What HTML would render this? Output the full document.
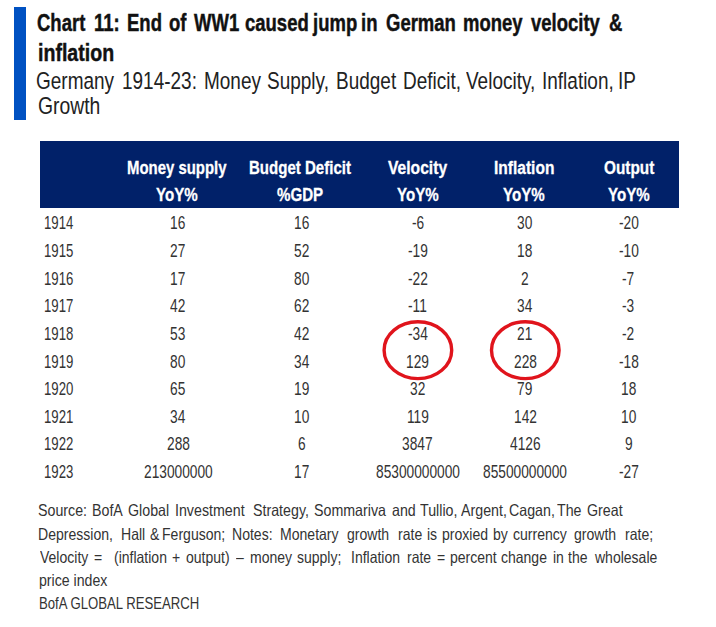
<!DOCTYPE html>
<html><head><meta charset="utf-8">
<style>
html,body{margin:0;padding:0;background:#fff;width:716px;height:627px;overflow:hidden;position:relative}
.t{position:absolute;white-space:pre;font-family:"Liberation Sans",sans-serif;line-height:normal;transform-origin:0 0}
.bar{position:absolute;left:14px;top:7px;width:12px;height:113px;background:#0051c2}
.hdr{position:absolute;left:40px;top:141px;width:639px;height:67px;background:#012169}
svg{position:absolute;left:0;top:0}
</style></head><body>
<div class="bar"></div>
<div class="hdr"></div>
<div class="t" style="left:36.89px;top:10.36px;font-size:23.69px;font-weight:bold;color:#111;-webkit-text-stroke:0.45px #111;transform:scaleX(0.7807)">Chart</div>
<div class="t" style="left:93.91px;top:10.36px;font-size:23.69px;font-weight:bold;color:#111;-webkit-text-stroke:0.45px #111;transform:scaleX(0.7807)">11:</div>
<div class="t" style="left:127.40px;top:10.36px;font-size:23.69px;font-weight:bold;color:#111;-webkit-text-stroke:0.45px #111;transform:scaleX(0.7807)">End</div>
<div class="t" style="left:168.57px;top:10.36px;font-size:23.69px;font-weight:bold;color:#111;-webkit-text-stroke:0.45px #111;transform:scaleX(0.7807)">of</div>
<div class="t" style="left:194.05px;top:10.36px;font-size:23.69px;font-weight:bold;color:#111;-webkit-text-stroke:0.45px #111;transform:scaleX(0.7807)">WW1</div>
<div class="t" style="left:245.45px;top:10.36px;font-size:23.69px;font-weight:bold;color:#111;-webkit-text-stroke:0.45px #111;transform:scaleX(0.7807)">caused</div>
<div class="t" style="left:312.96px;top:10.36px;font-size:23.69px;font-weight:bold;color:#111;-webkit-text-stroke:0.45px #111;transform:scaleX(0.7807)">jump</div>
<div class="t" style="left:361.26px;top:10.36px;font-size:23.69px;font-weight:bold;color:#111;-webkit-text-stroke:0.45px #111;transform:scaleX(0.7807)">in</div>
<div class="t" style="left:385.81px;top:10.36px;font-size:23.69px;font-weight:bold;color:#111;-webkit-text-stroke:0.45px #111;transform:scaleX(0.7807)">German</div>
<div class="t" style="left:463.18px;top:10.36px;font-size:23.69px;font-weight:bold;color:#111;-webkit-text-stroke:0.45px #111;transform:scaleX(0.7807)">money</div>
<div class="t" style="left:531.22px;top:10.36px;font-size:23.69px;font-weight:bold;color:#111;-webkit-text-stroke:0.45px #111;transform:scaleX(0.7807)">velocity</div>
<div class="t" style="left:608.67px;top:10.36px;font-size:23.69px;font-weight:bold;color:#111;-webkit-text-stroke:0.45px #111;transform:scaleX(0.7807)">&amp;</div>
<div class="t" style="left:37.70px;top:40.36px;font-size:23.69px;font-weight:bold;color:#111;-webkit-text-stroke:0.45px #111;transform:scaleX(0.8263)">inflation</div>
<div class="t" style="left:36.28px;top:67.75px;font-size:23.26px;color:#222;transform:scaleX(0.8164)">Germany</div>
<div class="t" style="left:122.38px;top:67.75px;font-size:23.26px;color:#222;transform:scaleX(0.8164)">1914-23:</div>
<div class="t" style="left:204.02px;top:67.75px;font-size:23.26px;color:#222;transform:scaleX(0.8164)">Money</div>
<div class="t" style="left:267.26px;top:67.75px;font-size:23.26px;color:#222;transform:scaleX(0.8164)">Supply,</div>
<div class="t" style="left:335.71px;top:67.75px;font-size:23.26px;color:#222;transform:scaleX(0.8164)">Budget</div>
<div class="t" style="left:402.68px;top:67.75px;font-size:23.26px;color:#222;transform:scaleX(0.8164)">Deficit,</div>
<div class="t" style="left:465.79px;top:67.75px;font-size:23.26px;color:#222;transform:scaleX(0.8164)">Velocity,</div>
<div class="t" style="left:541.62px;top:67.75px;font-size:23.26px;color:#222;transform:scaleX(0.8164)">Inflation,</div>
<div class="t" style="left:617.82px;top:67.75px;font-size:23.26px;color:#222;transform:scaleX(0.8164)">IP</div>
<div class="t" style="left:37.60px;top:93.35px;font-size:23.26px;color:#222;transform:scaleX(0.8320)">Growth</div>
<div class="t" style="left:127.40px;top:157.40px;font-size:18.90px;font-weight:bold;color:#fff;-webkit-text-stroke:0.3px #fff;transform:scaleX(0.7905)">Money supply</div>
<div class="t" style="left:249.00px;top:157.40px;font-size:18.90px;font-weight:bold;color:#fff;-webkit-text-stroke:0.3px #fff;transform:scaleX(0.7963)">Budget Deficit</div>
<div class="t" style="left:387.90px;top:157.40px;font-size:18.90px;font-weight:bold;color:#fff;-webkit-text-stroke:0.3px #fff;transform:scaleX(0.8277)">Velocity</div>
<div class="t" style="left:493.60px;top:157.40px;font-size:18.90px;font-weight:bold;color:#fff;-webkit-text-stroke:0.3px #fff;transform:scaleX(0.8218)">Inflation</div>
<div class="t" style="left:603.70px;top:157.40px;font-size:18.90px;font-weight:bold;color:#fff;-webkit-text-stroke:0.3px #fff;transform:scaleX(0.8126)">Output</div>
<div class="t" style="left:156.16px;top:183.70px;font-size:18.90px;font-weight:bold;color:#fff;-webkit-text-stroke:0.3px #fff;transform:scaleX(0.8000)">YoY%</div>
<div class="t" style="left:277.42px;top:183.70px;font-size:18.90px;font-weight:bold;color:#fff;-webkit-text-stroke:0.3px #fff;transform:scaleX(0.8000)">%GDP</div>
<div class="t" style="left:396.66px;top:183.70px;font-size:18.90px;font-weight:bold;color:#fff;-webkit-text-stroke:0.3px #fff;transform:scaleX(0.8000)">YoY%</div>
<div class="t" style="left:503.16px;top:183.70px;font-size:18.90px;font-weight:bold;color:#fff;-webkit-text-stroke:0.3px #fff;transform:scaleX(0.8000)">YoY%</div>
<div class="t" style="left:608.16px;top:183.70px;font-size:18.90px;font-weight:bold;color:#fff;-webkit-text-stroke:0.3px #fff;transform:scaleX(0.8000)">YoY%</div>
<div class="t" style="left:43.90px;top:212.33px;font-size:18.31px;color:#333;transform:scaleX(0.7200)">1914</div>
<div class="t" style="left:170.35px;top:212.33px;font-size:18.31px;color:#333;transform:scaleX(0.7500)">16</div>
<div class="t" style="left:294.35px;top:212.33px;font-size:18.31px;color:#333;transform:scaleX(0.7500)">16</div>
<div class="t" style="left:411.59px;top:212.33px;font-size:18.31px;color:#333;transform:scaleX(0.7500)">-6</div>
<div class="t" style="left:517.35px;top:212.33px;font-size:18.31px;color:#333;transform:scaleX(0.7500)">30</div>
<div class="t" style="left:618.56px;top:212.33px;font-size:18.31px;color:#333;transform:scaleX(0.7500)">-20</div>
<div class="t" style="left:43.90px;top:239.97px;font-size:18.31px;color:#333;transform:scaleX(0.7200)">1915</div>
<div class="t" style="left:170.35px;top:239.97px;font-size:18.31px;color:#333;transform:scaleX(0.7500)">27</div>
<div class="t" style="left:294.35px;top:239.97px;font-size:18.31px;color:#333;transform:scaleX(0.7500)">52</div>
<div class="t" style="left:407.76px;top:239.97px;font-size:18.31px;color:#333;transform:scaleX(0.7500)">-19</div>
<div class="t" style="left:517.35px;top:239.97px;font-size:18.31px;color:#333;transform:scaleX(0.7500)">18</div>
<div class="t" style="left:618.56px;top:239.97px;font-size:18.31px;color:#333;transform:scaleX(0.7500)">-10</div>
<div class="t" style="left:43.90px;top:267.61px;font-size:18.31px;color:#333;transform:scaleX(0.7200)">1916</div>
<div class="t" style="left:170.35px;top:267.61px;font-size:18.31px;color:#333;transform:scaleX(0.7500)">17</div>
<div class="t" style="left:294.35px;top:267.61px;font-size:18.31px;color:#333;transform:scaleX(0.7500)">80</div>
<div class="t" style="left:407.76px;top:267.61px;font-size:18.31px;color:#333;transform:scaleX(0.7500)">-22</div>
<div class="t" style="left:521.17px;top:267.61px;font-size:18.31px;color:#333;transform:scaleX(0.7500)">2</div>
<div class="t" style="left:622.39px;top:267.61px;font-size:18.31px;color:#333;transform:scaleX(0.7500)">-7</div>
<div class="t" style="left:43.90px;top:295.25px;font-size:18.31px;color:#333;transform:scaleX(0.7200)">1917</div>
<div class="t" style="left:170.35px;top:295.25px;font-size:18.31px;color:#333;transform:scaleX(0.7500)">42</div>
<div class="t" style="left:294.35px;top:295.25px;font-size:18.31px;color:#333;transform:scaleX(0.7500)">62</div>
<div class="t" style="left:408.29px;top:295.25px;font-size:18.31px;color:#333;transform:scaleX(0.7500)">-11</div>
<div class="t" style="left:517.35px;top:295.25px;font-size:18.31px;color:#333;transform:scaleX(0.7500)">34</div>
<div class="t" style="left:622.39px;top:295.25px;font-size:18.31px;color:#333;transform:scaleX(0.7500)">-3</div>
<div class="t" style="left:43.90px;top:322.89px;font-size:18.31px;color:#333;transform:scaleX(0.7200)">1918</div>
<div class="t" style="left:170.35px;top:322.89px;font-size:18.31px;color:#333;transform:scaleX(0.7500)">53</div>
<div class="t" style="left:294.35px;top:322.89px;font-size:18.31px;color:#333;transform:scaleX(0.7500)">42</div>
<div class="t" style="left:407.76px;top:322.89px;font-size:18.31px;color:#333;transform:scaleX(0.7500)">-34</div>
<div class="t" style="left:517.35px;top:322.89px;font-size:18.31px;color:#333;transform:scaleX(0.7500)">21</div>
<div class="t" style="left:622.39px;top:322.89px;font-size:18.31px;color:#333;transform:scaleX(0.7500)">-2</div>
<div class="t" style="left:43.90px;top:350.53px;font-size:18.31px;color:#333;transform:scaleX(0.7200)">1919</div>
<div class="t" style="left:170.35px;top:350.53px;font-size:18.31px;color:#333;transform:scaleX(0.7500)">80</div>
<div class="t" style="left:294.35px;top:350.53px;font-size:18.31px;color:#333;transform:scaleX(0.7500)">34</div>
<div class="t" style="left:406.22px;top:350.53px;font-size:18.31px;color:#333;transform:scaleX(0.7500)">129</div>
<div class="t" style="left:513.52px;top:350.53px;font-size:18.31px;color:#333;transform:scaleX(0.7500)">228</div>
<div class="t" style="left:618.56px;top:350.53px;font-size:18.31px;color:#333;transform:scaleX(0.7500)">-18</div>
<div class="t" style="left:43.90px;top:378.17px;font-size:18.31px;color:#333;transform:scaleX(0.7200)">1920</div>
<div class="t" style="left:170.35px;top:378.17px;font-size:18.31px;color:#333;transform:scaleX(0.7500)">65</div>
<div class="t" style="left:294.35px;top:378.17px;font-size:18.31px;color:#333;transform:scaleX(0.7500)">19</div>
<div class="t" style="left:410.05px;top:378.17px;font-size:18.31px;color:#333;transform:scaleX(0.7500)">32</div>
<div class="t" style="left:517.35px;top:378.17px;font-size:18.31px;color:#333;transform:scaleX(0.7500)">79</div>
<div class="t" style="left:620.85px;top:378.17px;font-size:18.31px;color:#333;transform:scaleX(0.7500)">18</div>
<div class="t" style="left:43.90px;top:405.81px;font-size:18.31px;color:#333;transform:scaleX(0.7200)">1921</div>
<div class="t" style="left:170.35px;top:405.81px;font-size:18.31px;color:#333;transform:scaleX(0.7500)">34</div>
<div class="t" style="left:294.35px;top:405.81px;font-size:18.31px;color:#333;transform:scaleX(0.7500)">10</div>
<div class="t" style="left:406.75px;top:405.81px;font-size:18.31px;color:#333;transform:scaleX(0.7500)">119</div>
<div class="t" style="left:513.52px;top:405.81px;font-size:18.31px;color:#333;transform:scaleX(0.7500)">142</div>
<div class="t" style="left:620.85px;top:405.81px;font-size:18.31px;color:#333;transform:scaleX(0.7500)">10</div>
<div class="t" style="left:43.90px;top:433.45px;font-size:18.31px;color:#333;transform:scaleX(0.7200)">1922</div>
<div class="t" style="left:166.53px;top:433.45px;font-size:18.31px;color:#333;transform:scaleX(0.7500)">288</div>
<div class="t" style="left:298.18px;top:433.45px;font-size:18.31px;color:#333;transform:scaleX(0.7500)">6</div>
<div class="t" style="left:402.44px;top:433.45px;font-size:18.31px;color:#333;transform:scaleX(0.7500)">3847</div>
<div class="t" style="left:509.74px;top:433.45px;font-size:18.31px;color:#333;transform:scaleX(0.7500)">4126</div>
<div class="t" style="left:624.67px;top:433.45px;font-size:18.31px;color:#333;transform:scaleX(0.7500)">9</div>
<div class="t" style="left:43.90px;top:461.09px;font-size:18.31px;color:#333;transform:scaleX(0.7200)">1923</div>
<div class="t" style="left:143.61px;top:461.09px;font-size:18.31px;color:#333;transform:scaleX(0.7500)">213000000</div>
<div class="t" style="left:294.35px;top:461.09px;font-size:18.31px;color:#333;transform:scaleX(0.7500)">17</div>
<div class="t" style="left:375.70px;top:461.09px;font-size:18.31px;color:#333;transform:scaleX(0.7500)">85300000000</div>
<div class="t" style="left:483.00px;top:461.09px;font-size:18.31px;color:#333;transform:scaleX(0.7500)">85500000000</div>
<div class="t" style="left:618.56px;top:461.09px;font-size:18.31px;color:#333;transform:scaleX(0.7500)">-27</div>
<div class="t" style="left:37.56px;top:501.47px;font-size:16.72px;color:#333;transform:scaleX(0.8519)">Source:</div>
<div class="t" style="left:92.29px;top:501.47px;font-size:16.72px;color:#333;transform:scaleX(0.8519)">BofA</div>
<div class="t" style="left:127.88px;top:501.47px;font-size:16.72px;color:#333;transform:scaleX(0.8519)">Global</div>
<div class="t" style="left:174.86px;top:501.47px;font-size:16.72px;color:#333;transform:scaleX(0.8519)">Investment</div>
<div class="t" style="left:253.06px;top:501.47px;font-size:16.72px;color:#333;transform:scaleX(0.8519)">Strategy,</div>
<div class="t" style="left:314.41px;top:501.47px;font-size:16.72px;color:#333;transform:scaleX(0.8519)">Sommariva</div>
<div class="t" style="left:391.87px;top:501.47px;font-size:16.72px;color:#333;transform:scaleX(0.8519)">and</div>
<div class="t" style="left:419.86px;top:501.47px;font-size:16.72px;color:#333;transform:scaleX(0.8519)">Tullio,</div>
<div class="t" style="left:461.14px;top:501.47px;font-size:16.72px;color:#333;transform:scaleX(0.8519)">Argent,</div>
<div class="t" style="left:509.04px;top:501.47px;font-size:16.72px;color:#333;transform:scaleX(0.8519)">Cagan,</div>
<div class="t" style="left:556.93px;top:501.47px;font-size:16.72px;color:#333;transform:scaleX(0.8519)">The</div>
<div class="t" style="left:587.29px;top:501.47px;font-size:16.72px;color:#333;transform:scaleX(0.8519)">Great</div>
<div class="t" style="left:38.09px;top:524.67px;font-size:16.72px;color:#333;transform:scaleX(0.8411)">Depression,</div>
<div class="t" style="left:120.64px;top:524.67px;font-size:16.72px;color:#333;transform:scaleX(0.8411)">Hall</div>
<div class="t" style="left:150.03px;top:524.67px;font-size:16.72px;color:#333;transform:scaleX(0.8411)">&amp;</div>
<div class="t" style="left:162.38px;top:524.67px;font-size:16.72px;color:#333;transform:scaleX(0.8411)">Ferguson;</div>
<div class="t" style="left:231.74px;top:524.67px;font-size:16.72px;color:#333;transform:scaleX(0.8411)">Notes:</div>
<div class="t" style="left:280.39px;top:524.67px;font-size:16.72px;color:#333;transform:scaleX(0.8411)">Monetary</div>
<div class="t" style="left:346.94px;top:524.67px;font-size:16.72px;color:#333;transform:scaleX(0.8411)">growth</div>
<div class="t" style="left:397.69px;top:524.67px;font-size:16.72px;color:#333;transform:scaleX(0.8411)">rate</div>
<div class="t" style="left:427.26px;top:524.67px;font-size:16.72px;color:#333;transform:scaleX(0.8411)">is</div>
<div class="t" style="left:442.00px;top:524.67px;font-size:16.72px;color:#333;transform:scaleX(0.8411)">proxied</div>
<div class="t" style="left:492.76px;top:524.67px;font-size:16.72px;color:#333;transform:scaleX(0.8411)">by</div>
<div class="t" style="left:513.14px;top:524.67px;font-size:16.72px;color:#333;transform:scaleX(0.8411)">currency</div>
<div class="t" style="left:573.69px;top:524.67px;font-size:16.72px;color:#333;transform:scaleX(0.8411)">growth</div>
<div class="t" style="left:624.80px;top:524.67px;font-size:16.72px;color:#333;transform:scaleX(0.8411)">rate;</div>
<div class="t" style="left:39.60px;top:547.87px;font-size:16.72px;color:#333;transform:scaleX(0.8386)">Velocity</div>
<div class="t" style="left:94.44px;top:547.87px;font-size:16.72px;color:#333;transform:scaleX(0.8386)">=</div>
<div class="t" style="left:113.65px;top:547.87px;font-size:16.72px;color:#333;transform:scaleX(0.8386)">(inflation</div>
<div class="t" style="left:172.14px;top:547.87px;font-size:16.72px;color:#333;transform:scaleX(0.8386)">+</div>
<div class="t" style="left:185.75px;top:547.87px;font-size:16.72px;color:#333;transform:scaleX(0.8386)">output)</div>
<div class="t" style="left:235.60px;top:547.87px;font-size:16.72px;color:#333;transform:scaleX(0.8386)">–</div>
<div class="t" style="left:249.95px;top:547.87px;font-size:16.72px;color:#333;transform:scaleX(0.8386)">money</div>
<div class="t" style="left:296.68px;top:547.87px;font-size:16.72px;color:#333;transform:scaleX(0.8386)">supply;</div>
<div class="t" style="left:350.77px;top:547.87px;font-size:16.72px;color:#333;transform:scaleX(0.8386)">Inflation</div>
<div class="t" style="left:406.92px;top:547.87px;font-size:16.72px;color:#333;transform:scaleX(0.8386)">rate</div>
<div class="t" style="left:437.39px;top:547.87px;font-size:16.72px;color:#333;transform:scaleX(0.8386)">=</div>
<div class="t" style="left:449.90px;top:547.87px;font-size:16.72px;color:#333;transform:scaleX(0.8386)">percent</div>
<div class="t" style="left:500.72px;top:547.87px;font-size:16.72px;color:#333;transform:scaleX(0.8386)">change</div>
<div class="t" style="left:552.65px;top:547.87px;font-size:16.72px;color:#333;transform:scaleX(0.8386)">in</div>
<div class="t" style="left:568.42px;top:547.87px;font-size:16.72px;color:#333;transform:scaleX(0.8386)">the</div>
<div class="t" style="left:595.44px;top:547.87px;font-size:16.72px;color:#333;transform:scaleX(0.8386)">wholesale</div>
<div class="t" style="left:39.30px;top:571.07px;font-size:16.72px;color:#333;transform:scaleX(0.8465)">price index</div>
<div class="t" style="left:39.36px;top:594.27px;font-size:16.72px;color:#333;transform:scaleX(0.7868)">BofA GLOBAL RESEARCH</div>
<svg width="716" height="627" viewBox="0 0 716 627">
<ellipse cx="417.9" cy="350.2" rx="33.8" ry="28.4" fill="none" stroke="#e0141c" stroke-width="3.4"/>
<ellipse cx="525.3" cy="350.2" rx="33.8" ry="28.4" fill="none" stroke="#e0141c" stroke-width="3.4"/>
</svg>
</body></html>
